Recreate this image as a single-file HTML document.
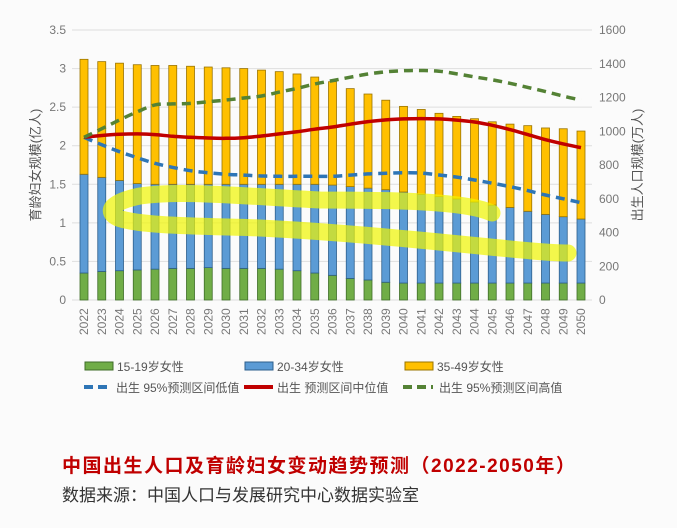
<!DOCTYPE html>
<html><head><meta charset="utf-8"><style>
body{margin:0;width:677px;height:523px;background:#fbfbfb;font-family:"Liberation Sans","Noto Sans CJK SC",sans-serif;overflow:hidden}
svg text{font-family:"Liberation Sans","Noto Sans CJK SC",sans-serif}
</style></head><body>
<svg id="chart" width="677" height="523" xmlns="http://www.w3.org/2000/svg">
<g id="grid"></g>
<g id="bars"></g>
<g id="lines"></g>
<path d="M492,213 C470,203 420,200 320,200 C240,196 180,190 140,196 C110,202 105,212 118,218 C140,226 200,226 260,228 C340,232 420,240 480,246 C520,250 550,253 568,253" fill="none" stroke="#f0f500" stroke-opacity="0.7" stroke-width="17" stroke-linecap="round"/>
<g id="axes"></g>
<text transform="translate(40,165) rotate(-90)" text-anchor="middle" font-size="13" fill="#555">育龄妇女规模(亿人)</text>
<text transform="translate(642,165) rotate(-90)" text-anchor="middle" font-size="13" fill="#555">出生人口规模(万人)</text>
<g font-size="12" fill="#555">
<rect x="85" y="362" width="28" height="8" fill="#70ad47" stroke="#3f6d29"/>
<text x="117" y="371" fill="#555">15-19岁女性</text>
<rect x="245" y="362" width="28" height="8" fill="#5b9bd5" stroke="#2e5f8c"/>
<text x="277" y="371" fill="#555">20-34岁女性</text>
<rect x="405" y="362" width="28" height="8" fill="#ffc000" stroke="#9a7400"/>
<text x="437" y="371" fill="#555">35-49岁女性</text>
<line x1="84" y1="387" x2="110" y2="387" stroke="#2e75b6" stroke-width="4" stroke-dasharray="9,5"/>
<text x="116" y="392" fill="#555">出生 95%预测区间低值</text>
<line x1="244" y1="387" x2="273" y2="387" stroke="#c00000" stroke-width="4"/>
<text x="277" y="392" fill="#555">出生 预测区间中位值</text>
<line x1="403" y1="387" x2="433" y2="387" stroke="#548235" stroke-width="4" stroke-dasharray="9,5"/>
<text x="439" y="392" fill="#555">出生 95%预测区间高值</text>
</g>
<text x="62" y="472" font-size="19" font-weight="bold" letter-spacing="1.5" fill="#c00000">中国出生人口及育龄妇女变动趋势预测（2022-2050年）</text>
<text x="62" y="501" font-size="17" fill="#333">数据来源：中国人口与发展研究中心数据实验室</text>
</svg>
<script>
const years=[2022,2023,2024,2025,2026,2027,2028,2029,2030,2031,2032,2033,2034,2035,2036,2037,2038,2039,2040,2041,2042,2043,2044,2045,2046,2047,2048,2049,2050];
const age1519=[0.35,0.37,0.38,0.39,0.40,0.41,0.41,0.42,0.41,0.41,0.41,0.40,0.38,0.35,0.32,0.28,0.26,0.23,0.22,0.22,0.22,0.22,0.22,0.22,0.22,0.22,0.22,0.22,0.22];
const age2034=[1.28,1.22,1.17,1.12,1.10,1.09,1.09,1.08,1.09,1.09,1.09,1.10,1.12,1.15,1.17,1.19,1.19,1.20,1.18,1.15,1.12,1.09,1.05,1.01,0.98,0.93,0.89,0.86,0.83];
const age3549=[1.49,1.50,1.52,1.54,1.54,1.54,1.53,1.52,1.51,1.50,1.48,1.46,1.43,1.39,1.34,1.27,1.22,1.16,1.11,1.10,1.08,1.07,1.08,1.08,1.08,1.11,1.12,1.14,1.14];
const birthLow=[964,920,879,843,810,786,766,754,745,740,735,733,733,733,733,740,747,751,754,752,741,728,711,692,672,648,622,600,577];
const birthMid=[964,975,982,984,980,970,964,960,958,962,972,984,997,1012,1025,1042,1057,1067,1073,1075,1073,1066,1055,1035,1010,980,950,925,903];
const birthHigh=[964,1015,1067,1115,1156,1162,1165,1175,1185,1197,1209,1232,1254,1280,1300,1320,1339,1352,1359,1360,1356,1340,1322,1305,1284,1260,1235,1208,1185];
const leftTicks=[0,0.5,1,1.5,2,2.5,3,3.5];
const rightTicks=[0,200,400,600,800,1000,1200,1400,1600];
const NS="http://www.w3.org/2000/svg";
const x=i=>84+i*(497/28);
const yL=v=>300-v*(270/3.5);
const yR=v=>300-v*(270/1600);
function mk(tag,attrs,parent){const e=document.createElementNS(NS,tag);for(const k in attrs)e.setAttribute(k,attrs[k]);document.getElementById(parent).appendChild(e);return e;}
leftTicks.forEach(t=>{
 const g=mk('line',{x1:72,x2:592,y1:yL(t),y2:yL(t),stroke:'#dedede','stroke-width':1},'grid');
 
 
 const l=mk('text',{x:66,y:yL(t)+4,'text-anchor':'end','font-size':12,fill:'#777'},'axes');
 l.textContent=t;
 
 
});
rightTicks.forEach(t=>{
 const l=mk('text',{x:599,y:yR(t)+4,'font-size':12,fill:'#777'},'axes');
 l.textContent=t;
 
 
});
years.forEach((yr,i)=>{
 const cx=x(i),w=8;let base=0;
 [[age1519,'#70ad47','#3f6d29'],[age2034,'#5b9bd5','#2e5f8c'],[age3549,'#ffc000','#9a7400']].forEach(([arr,c,s],k)=>{
  const v=arr[i];
  const r=mk('rect',{x:cx-w/2,y:yL(base+v),width:w,height:yL(base)-yL(base+v),fill:c,stroke:s,'stroke-width':0.8},'bars');
  
  
  base+=v;
 });
 const t=mk('text',{transform:`translate(${cx+4},335) rotate(-90)`,'font-size':12,fill:'#777'},'axes');
 t.textContent=yr;
 
 
});
function smooth(arr){
 const p=arr.map((v,i)=>[x(i),yR(v)]);
 let d='M'+p[0][0].toFixed(1)+','+p[0][1].toFixed(1);
 for(let i=0;i<p.length-1;i++){
  const p0=p[Math.max(i-1,0)],p1=p[i],p2=p[i+1],p3=p[Math.min(i+2,p.length-1)];
  const c1=[p1[0]+(p2[0]-p0[0])/6,p1[1]+(p2[1]-p0[1])/6],c2=[p2[0]-(p3[0]-p1[0])/6,p2[1]-(p3[1]-p1[1])/6];
  d+='C'+c1.map(n=>n.toFixed(1)).join(',')+' '+c2.map(n=>n.toFixed(1)).join(',')+' '+p2.map(n=>n.toFixed(1)).join(',');
 }
 return d;
}
[[birthLow,'#2e75b6','9,6','birth-low-line'],[birthMid,'#c00000','','birth-mid-line'],[birthHigh,'#548235','9,6','birth-high-line']].forEach(([a,c,da,n])=>{
 const p=mk('path',{d:smooth(a),fill:'none',stroke:c,'stroke-width':3.5,'stroke-dasharray':da,'stroke-linejoin':'round'},'lines');
 
 
});
</script>
</body></html>
